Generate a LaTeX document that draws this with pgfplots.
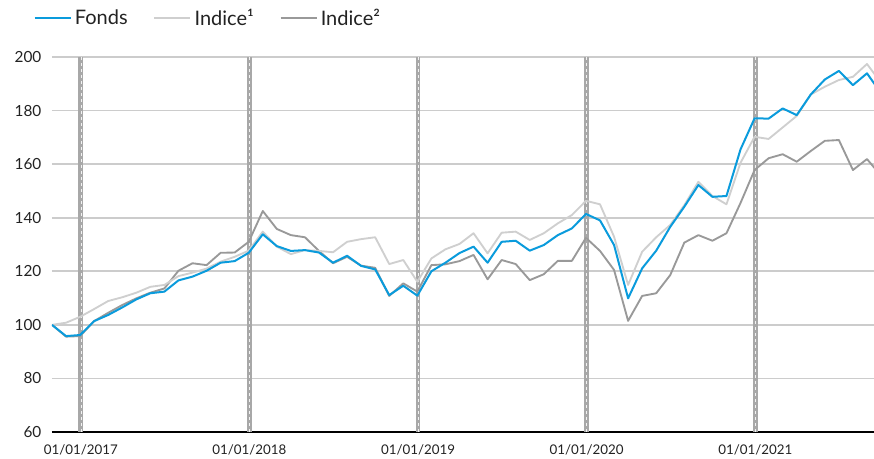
\documentclass[border=0pt]{standalone}
\usepackage{fontspec}
\setmainfont{Lato}
\usepackage{pgfplots}
\pgfplotsset{compat=1.18}
\usepackage{pgfplotstable}

\definecolor{fonds}{HTML}{0A9BDC}
\definecolor{indA}{HTML}{CFCFCF}
\definecolor{indB}{HTML}{999999}
\definecolor{gridc}{HTML}{CCCCCC}
\definecolor{yearc}{HTML}{A8A8A8}
\definecolor{txt}{HTML}{222222}

\pgfplotstableread{
i f a b
0 100 100 100
1 95.8 100.8 95.6
2 96.2 103 95.8
3 101.4 105.9 101.4
4 103.7 108.9 104.5
5 106.5 110.3 107.4
6 109.5 112 109.9
7 111.8 114.2 112
8 112.4 114.9 113.6
9 116.6 118.2 120.2
10 118 119.5 123
11 120.2 121 122.3
12 123.2 123.6 126.9
13 123.8 125.4 127
14 126.9 127.7 131
15 133.8 134.8 142.5
16 129.4 129.2 135.8
17 127.6 126.4 133.5
18 127.9 127.9 132.7
19 127 127.6 127.6
20 123.2 127.1 123
21 125.8 131 125.4
22 122 132 122.1
23 120.7 132.7 121.3
24 111.1 122.7 110.8
25 114.6 124.2 115.5
26 110.9 116.1 112.4
27 120 124.8 122.3
28 123.2 128.2 122.6
29 126.8 130.2 123.8
30 129.2 134.2 126.1
31 123.2 126.7 117
32 131 134.4 124.2
33 131.4 134.8 122.7
34 127.7 131.7 116.7
35 129.8 134.2 118.9
36 133.5 137.9 123.9
37 136 141 123.9
38 141.4 146.3 132.5
39 139 145 127.6
40 129.8 132.9 120.5
41 109.9 114.9 101.5
42 121.1 127.3 110.8
43 127.7 132.7 111.8
44 136.6 137.3 118.6
45 144.1 144.7 130.7
46 152.2 153.4 133.5
47 147.8 148.1 131.4
48 148.1 145 134.2
49 165.5 160.5 145.5
50 177.1 170.2 157.8
51 177 169.4 162.2
52 180.8 173.7 163.7
53 178.3 178 160.9
54 186 186 164.9
55 191.6 188.9 168.7
56 194.8 191.4 169
57 189.5 192.6 157.8
58 193.9 197.4 161.9
59 186.5 190.4 155.7
}\data

\begin{document}
\begin{tikzpicture}
\useasboundingbox (-39pt,-20.25pt) rectangle (616.5pt,324pt);
\begin{axis}[
  at={(0,0)}, anchor=south west,
  scale only axis, width=616.5pt, height=281.25pt,
  xmin=0, xmax=58.5, ymin=60, ymax=200,
  clip=true,
  axis lines=left,
  axis line style={-},
  y axis line style={draw=none},
  x axis line style={black, line width=1.3pt},
  major tick length=0pt,
  ytick={60,80,...,200},
  xtick={2.05,14.05,26.05,38.05,50.05},
  xticklabels={01/01/2017,01/01/2018,01/01/2019,01/01/2020,01/01/2021},
  ymajorgrids,
  grid style={gridc, line width=1.2pt},
  /pgf/number format/assume math mode=true,
  yticklabel style={font=\fontsize{11.5}{13}\selectfont, text=txt, xshift=-4.5pt},
  xticklabel style={font=\fontsize{10}{12}\selectfont, text=txt, yshift=-6pt},
  legend columns=3,
  reverse legend,
  legend cell align=left,
  legend style={draw=none, fill=none, at={(axis description cs:-0.0231,1.104)}, anchor=west,
    font=\fontsize{15}{17}\selectfont, text=txt, inner xsep=0pt,
    /tikz/every even column/.append style={column sep=17pt}},
  legend image code/.code={\draw[#1, line width=2.2pt] (0pt,0pt) -- (27pt,0pt);},
  line join=round,
]
\pgfplotsinvokeforeach{2.05,14.05,26.05,38.05,50.05}{
  \addplot[forget plot, yearc, line width=3.6pt] coordinates {(#1,60) (#1,200)};
  \addplot[forget plot, white!85!yearc, line width=0.45pt, dash pattern=on 2.5pt off 2pt] coordinates {(#1,60) (#1,200)};
}
\addplot[indB, line width=1.4pt] table[x=i, y=b] {\data};
\addlegendentry{Indice²}
\addplot[indA, line width=1.4pt] table[x=i, y=a] {\data};
\addlegendentry{Indice¹}
\addplot[fonds, line width=1.5pt] table[x=i, y=f] {\data};
\addlegendentry{Fonds}
\end{axis}
\end{tikzpicture}
\end{document}
